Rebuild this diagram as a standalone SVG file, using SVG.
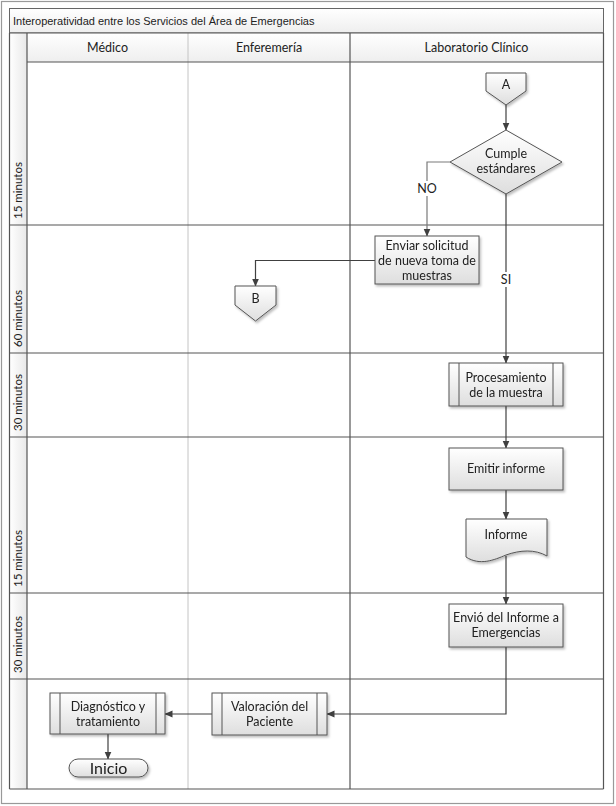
<svg xmlns="http://www.w3.org/2000/svg" width="616" height="806" viewBox="0 0 616 806">
<defs>
<style>
.t{font-family:Lato,"Noto Sans",sans-serif;font-size:12.5px;fill:#222;text-anchor:middle}
.hd{font-family:Lato,"Noto Sans",sans-serif;font-size:12.5px;fill:#222;text-anchor:middle}
.rl{font-family:Lato,"Noto Sans",sans-serif;font-size:11.5px;fill:#222}
.box{fill:url(#g);stroke:#555;stroke-width:1}
.in{stroke:#555;stroke-width:1}
.c{fill:none;stroke:#404040;stroke-width:1.2}
.sep{stroke:#555;stroke-width:1.2}
.lt{stroke:#c4c4c4;stroke-width:1}
.lbl{font-family:Lato,"Noto Sans",sans-serif;font-size:12.5px;fill:#222;text-anchor:middle}
</style>
<linearGradient id="g" x1="0" y1="0" x2="0" y2="1"><stop offset="0" stop-color="#ffffff"/><stop offset="1" stop-color="#dedede"/></linearGradient>
<linearGradient id="hg" x1="0" y1="0" x2="0" y2="1"><stop offset="0" stop-color="#ffffff"/><stop offset="1" stop-color="#eeeeee"/></linearGradient>
<linearGradient id="lg" x1="0" y1="0" x2="1" y2="0"><stop offset="0" stop-color="#ffffff"/><stop offset="1" stop-color="#e8e8e8"/></linearGradient>
<filter id="sh" x="-10%" y="-10%" width="130%" height="140%"><feDropShadow dx="1.5" dy="2" stdDeviation="1" flood-color="#000" flood-opacity="0.25"/></filter>
<marker id="ar" viewBox="0 0 8 8" refX="7.5" refY="4" markerWidth="8" markerHeight="8" markerUnits="userSpaceOnUse" orient="auto"><path d="M0,0.5 L8,4 L0,7.5 Z" fill="#404040"/></marker>
</defs>
<rect x="0" y="0" width="616" height="806" fill="#fff"/>
<rect x="1.5" y="1.5" width="612" height="802" fill="none" stroke="#999" stroke-width="1.2"/>

<g id="frame">
<rect x="9.5" y="8.5" width="594" height="24.5" fill="url(#hg)" stroke="#666"/>
<text x="13" y="24.5" style="font-family:'Liberation Sans',Arial,sans-serif;font-size:11px;fill:#222">Interoperatividad entre los Servicios del Área de Emergencias</text>
<rect x="27" y="33" width="576" height="29" fill="url(#hg)"/>
<rect x="9.5" y="33" width="17.5" height="756" fill="url(#lg)"/>
<line class="lt" x1="188" y1="33" x2="188" y2="789"/>
<line class="sep" x1="350" y1="33" x2="350" y2="789"/>
<line class="sep" x1="27" y1="33" x2="27" y2="789"/>
<line class="sep" x1="9.5" y1="33" x2="603.5" y2="33"/>
<line class="sep" x1="27" y1="62" x2="603.5" y2="62"/>
<line class="sep" x1="9.5" y1="225" x2="603.5" y2="225"/>
<line class="sep" x1="9.5" y1="353" x2="603.5" y2="353"/>
<line class="sep" x1="9.5" y1="437" x2="603.5" y2="437"/>
<line class="sep" x1="9.5" y1="593" x2="603.5" y2="593"/>
<line class="sep" x1="9.5" y1="679" x2="603.5" y2="679"/>
<line class="sep" x1="9.5" y1="789" x2="603.5" y2="789"/>
<line class="sep" x1="9.5" y1="33" x2="9.5" y2="789"/>
<line class="sep" x1="603.5" y1="33" x2="603.5" y2="789"/>
<text class="hd" x="107.5" y="51.5">Médico</text>
<text class="hd" x="269" y="51.5">Enferemería</text>
<text class="hd" x="476.5" y="51.5">Laboratorio Clínico</text>
<text class="rl" transform="translate(22,219) rotate(-90)">15 minutos</text>
<text class="rl" transform="translate(22,347) rotate(-90)">60 minutos</text>
<text class="rl" transform="translate(22,431) rotate(-90)">30 minutos</text>
<text class="rl" transform="translate(22,587) rotate(-90)">15 minutos</text>
<text class="rl" transform="translate(22,673) rotate(-90)">30 minutos</text>
</g>

<g id="connectors">
<path class="c" d="M506,105 V130" marker-end="url(#ar)"/>
<path class="c" d="M450,162 H427 V236" style="stroke:#7a7a7a" marker-end="url(#ar)"/>
<path class="c" d="M375,260.5 H255.5 V286" marker-end="url(#ar)"/>
<path class="c" d="M506,194 V363" marker-end="url(#ar)"/>
<path class="c" d="M506,406 V448" marker-end="url(#ar)"/>
<path class="c" d="M506,490 V519" marker-end="url(#ar)"/>
<path class="c" d="M506,556 V604" marker-end="url(#ar)"/>
<path class="c" d="M506,647 V714 H327" marker-end="url(#ar)"/>
<path class="c" d="M212,714 H165" marker-end="url(#ar)"/>
<path class="c" d="M108,734 V759" marker-end="url(#ar)"/>
<rect x="416" y="181" width="22" height="15" fill="#fff"/>
<text class="lbl" x="427" y="193">NO</text>
<rect x="500" y="272" width="12" height="15" fill="#fff"/>
<text class="lbl" x="506" y="284">SI</text>
</g>

<g id="nodeA" filter="url(#sh)">
<path class="box" d="M486,73 H526 V91 L506,105 L486,91 Z"/>
<text class="t" x="506" y="89">A</text>
</g>
<g id="decision" filter="url(#sh)">
<path class="box" d="M506,130 L562,162 L506,194 L450,162 Z"/>
<text class="t" x="506" y="158">Cumple</text>
<text class="t" x="506" y="173">estándares</text>
</g>
<g id="enviar" filter="url(#sh)">
<rect class="box" x="375" y="236" width="104" height="48"/>
<text class="t" x="427" y="250">Enviar solicitud</text>
<text class="t" x="427" y="265">de nueva toma de</text>
<text class="t" x="427" y="280">muestras</text>
</g>
<g id="nodeB" filter="url(#sh)">
<path class="box" d="M235,286 H276 V305 L255.5,321 L235,305 Z"/>
<text class="t" x="255.5" y="303">B</text>
</g>
<g id="procesamiento" filter="url(#sh)">
<rect class="box" x="449" y="363" width="114" height="43"/>
<line class="in" x1="459" y1="363" x2="459" y2="406"/>
<line class="in" x1="553" y1="363" x2="553" y2="406"/>
<text class="t" x="506" y="382">Procesamiento</text>
<text class="t" x="506" y="397">de la muestra</text>
</g>
<g id="emitir" filter="url(#sh)">
<rect class="box" x="449" y="448" width="114" height="42"/>
<text class="t" x="506" y="473">Emitir informe</text>
</g>
<g id="informe" filter="url(#sh)">
<path class="box" d="M466,519 H547 V556 C535,549 520,550 506,555 C494,560 480,566 466,557 Z"/>
<text class="t" x="506" y="539">Informe</text>
</g>
<g id="envio" filter="url(#sh)">
<rect class="box" x="449" y="604" width="114" height="43"/>
<text class="t" x="506" y="622">Envió del Informe a</text>
<text class="t" x="506" y="637">Emergencias</text>
</g>
<g id="valoracion" filter="url(#sh)">
<rect class="box" x="212" y="693" width="115" height="42"/>
<line class="in" x1="222" y1="693" x2="222" y2="735"/>
<line class="in" x1="317" y1="693" x2="317" y2="735"/>
<text class="t" x="269.5" y="711">Valoración del</text>
<text class="t" x="269.5" y="726">Paciente</text>
</g>
<g id="diagnostico" filter="url(#sh)">
<rect class="box" x="50" y="693" width="115" height="41"/>
<line class="in" x1="60" y1="693" x2="60" y2="734"/>
<line class="in" x1="156" y1="693" x2="156" y2="734"/>
<text class="t" x="108" y="711">Diagnóstico y</text>
<text class="t" x="108" y="726">tratamiento</text>
</g>
<g id="inicio" filter="url(#sh)">
<rect class="box" x="69" y="759" width="79" height="18" rx="9"/>
<text class="t" x="108.5" y="774" style="font-size:16px">Inicio</text>
</g>
</svg>
